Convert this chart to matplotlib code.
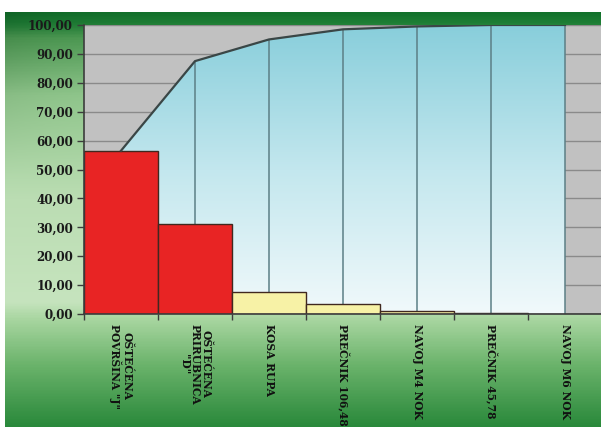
import numpy as np
import matplotlib
matplotlib.use("Agg")
import matplotlib.pyplot as plt
from matplotlib.colors import LinearSegmentedColormap

# Defect categories and their share of all defects (%)
categories = ['OŠTEĆENA\nPOVRŠINA "J"', 'OŠTEĆENA\nPRIRUBNICA\n"D"', 'KOSA RUPA',
              'PREČNIK 106,48', 'NAVOJ M4 NOK', 'PREČNIK 45,78', 'NAVOJ M6 NOK']
percent = [56.5, 31.0, 7.5, 3.5, 1.0, 0.5, 0.0]
bar_colors = ['#e82424', '#e82424', '#f7f2a6', '#f7f2a6', '#f7f2a6', '#f7f2a6', '#f7f2a6']
ytick_values = [0, 10, 20, 30, 40, 50, 60, 70, 80, 90, 100]
ytick_labels = ['0,00', '10,00', '20,00', '30,00', '40,00', '50,00',
                '60,00', '70,00', '80,00', '90,00', '100,00']

cumulative = np.cumsum(percent)
x = np.arange(len(categories))

W, H = 601, 433
fig = plt.figure(figsize=(W / 100, H / 100), dpi=100, facecolor='white')

# Green backdrop panel
bg = fig.add_axes([0, 0, 1, 1], zorder=0)
bg.set_xlim(0, W)
bg.set_ylim(H, 0)
bg.axis('off')
green = LinearSegmentedColormap.from_list('green', [
    (0.00, '#13722c'), (0.025, '#1f7f36'), (0.06, '#4f9d55'), (0.20, '#92c98e'),
    (0.45, '#bbddb3'), (0.70, '#c6e4be'), (0.74, '#a9d6a1'), (0.85, '#6cb46c'),
    (1.00, '#2a893b')])
vert = np.linspace(0, 1, 400)[:, None]
horiz = np.linspace(0, 1, 300)[None, :]
shade = green(vert * np.ones_like(horiz))[..., :3]
# slightly darker towards the left edge near the top
dark = (1 - 0.12 * np.exp(-horiz / 0.12) * np.clip(1 - vert / 0.4, 0, 1))[..., None]
bg.imshow(shade * dark, extent=[5, W, 427, 12], aspect='auto', interpolation='bilinear')

# Main chart
ax = fig.add_axes([84 / W, 119 / H, 518 / W, 289 / H], zorder=1)
ax.set_facecolor('#c1c1c1')
ax.set_xlim(-0.5, len(categories) - 0.5)
ax.set_ylim(0, 100)

for v in ytick_values[1:]:
    ax.axhline(v, color='#8a8a8a', lw=1.0, zorder=0.5)

# Cumulative area with vertical gradient
poly = ax.fill_between(x, 0, cumulative, facecolor='none', edgecolor='none', zorder=1)
sky = LinearSegmentedColormap.from_list('sky', ['#f1f9fb', '#c3e7ee', '#88cedb'])
grad = ax.imshow(np.linspace(0, 1, 256)[:, None], cmap=sky, origin='lower',
                 extent=[0, len(categories) - 1, 0, 100], aspect='auto', zorder=1)
grad.set_clip_path(poly.get_paths()[0], transform=ax.transData)

# Drop lines from the cumulative curve
ax.vlines(x[1:], 0, cumulative[1:], color='#5c7f86', lw=1.1, zorder=1.5)

# Bars
ax.bar(x, percent, width=1.0, color=bar_colors, edgecolor='#40281f', lw=1.0, zorder=3)

# Cumulative line
ax.plot(x, cumulative, color='#3a4646', lw=1.6, zorder=4)

for side in ('top', 'right'):
    ax.spines[side].set_visible(False)
for side in ('left', 'bottom'):
    ax.spines[side].set_color('#3c3c3c')
    ax.spines[side].set_linewidth(1.2)
    ax.spines[side].set_zorder(5)

ax.set_yticks(ytick_values)
ax.set_yticklabels(ytick_labels, family='DejaVu Serif', weight='bold', size=8.6,
                   color='#1a1a1a')
ax.tick_params(axis='y', direction='out', length=5, width=1, color='#3c3c3c', pad=3)

ax.set_xticks(x)
ax.set_xticklabels(categories, rotation=270, ha='center', va='top',
                   multialignment='center', linespacing=1.0,
                   family='DejaVu Serif', weight='bold', size=7.7, color='#111111')
ax.tick_params(axis='x', which='major', length=0, pad=7)
ax.set_xticks(np.arange(-0.5, len(categories), 1.0), minor=True)
ax.tick_params(axis='x', which='minor', direction='out', length=4, width=1, color='#3c3c3c')

fig.savefig('out.png', dpi=100, facecolor='white')
